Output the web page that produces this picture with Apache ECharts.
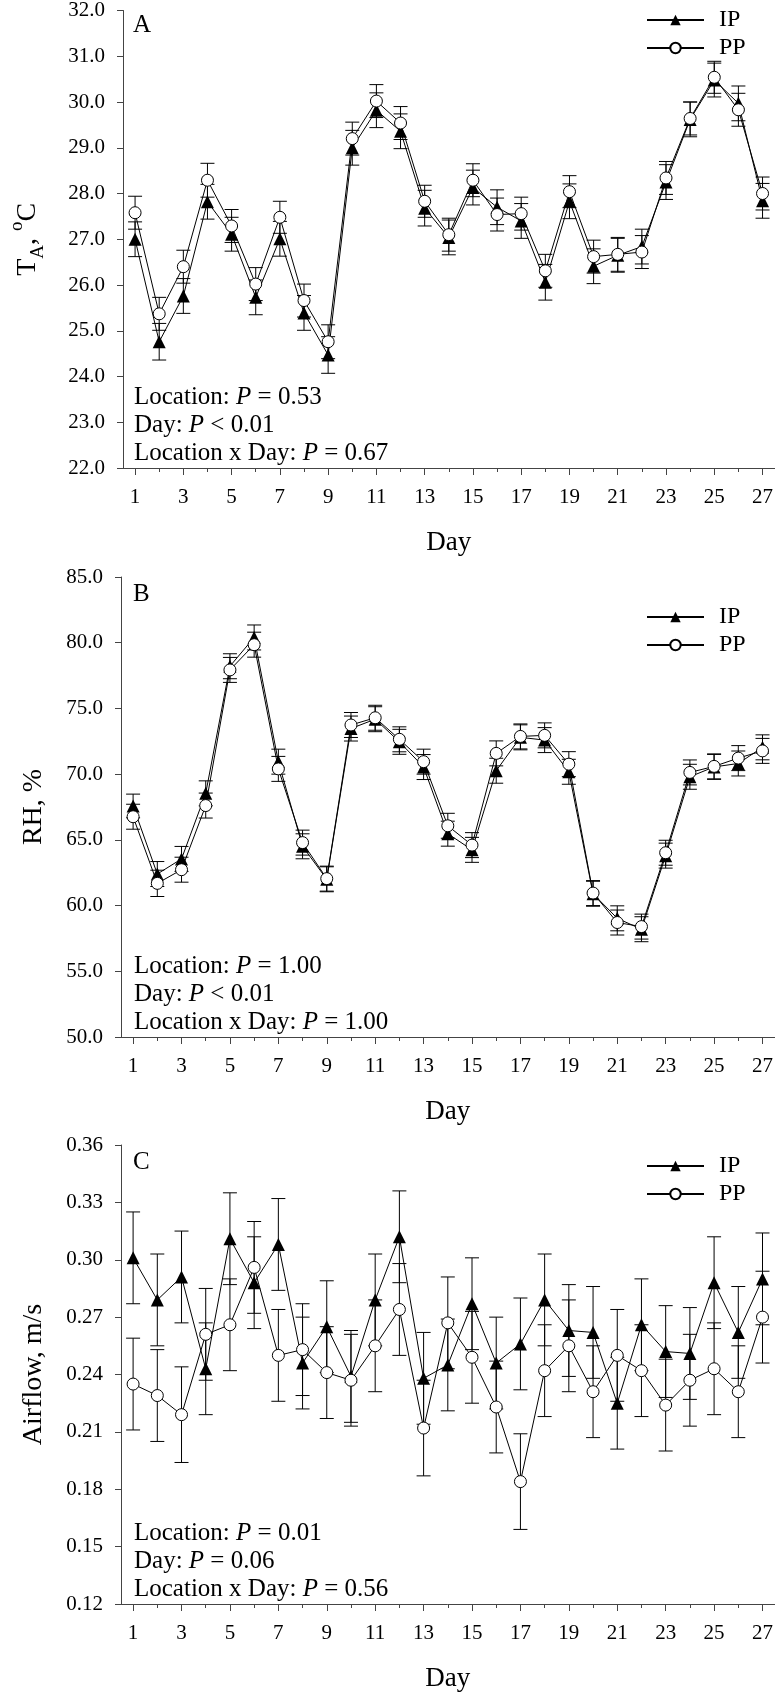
<!DOCTYPE html>
<html><head><meta charset="utf-8">
<script src="https://cdn.jsdelivr.net/npm/echarts@6/dist/echarts.min.js"></script>
<style>html,body{margin:0;padding:0;background:#fff}#c{width:776px;height:1697px}</style>
</head><body><div id="c"></div>
<script>
const days = [1,2,3,4,5,6,7,8,9,10,11,12,13,14,15,16,17,18,19,20,21,22,23,24,25,26,27];
const oddDays = [1,3,5,7,9,11,13,15,17,19,21,23,25,27];
const evenDays = [2,4,6,8,10,12,14,16,18,20,22,24,26];

// Panel A: air temperature (°C)
const taIP = [27.00,24.76,25.76,27.82,27.11,25.73,27.01,25.39,24.47,29.00,29.82,29.36,27.68,27.04,28.13,27.70,27.40,26.06,27.83,26.41,26.65,26.84,28.25,29.62,30.48,29.97,27.84];
const taPP = [27.58,25.37,26.40,28.29,27.29,26.02,27.48,25.66,24.76,29.20,30.02,29.54,27.83,27.10,28.29,27.54,27.56,26.31,28.04,26.62,26.67,26.72,28.34,29.64,30.54,29.83,28.00];
const taIPerr = [0.38,0.40,0.38,0.38,0.37,0.38,0.38,0.38,0.40,0.38,0.38,0.38,0.39,0.38,0.38,0.38,0.38,0.39,0.38,0.38,0.37,0.38,0.38,0.38,0.37,0.38,0.38];
const taPPerr = [0.36,0.36,0.36,0.37,0.36,0.36,0.35,0.36,0.37,0.36,0.36,0.36,0.35,0.36,0.36,0.36,0.36,0.36,0.35,0.36,0.37,0.36,0.36,0.36,0.35,0.36,0.36];

// Panel B: relative humidity (%)
const rhIP = [67.58,62.40,63.55,68.54,78.21,80.40,70.95,64.51,62.00,73.47,74.18,72.46,70.54,65.47,64.24,70.26,72.80,72.59,70.18,60.90,59.03,58.20,63.80,69.80,70.55,70.81,72.04];
const rhPP = [66.76,61.69,62.73,67.61,77.93,79.85,70.40,64.79,62.05,73.74,74.29,72.65,70.95,66.07,64.60,71.58,72.87,72.95,70.76,60.95,58.71,58.40,64.02,70.13,70.59,71.22,71.77];
const rhIPerr = [0.90,0.95,0.95,0.95,0.95,0.95,0.95,0.95,0.95,0.95,0.95,0.95,0.95,0.95,0.95,0.95,0.95,0.95,0.95,0.95,0.95,0.95,0.95,0.95,0.95,0.95,0.95];
const rhPPerr = [0.95,1.00,0.95,0.95,0.95,0.95,0.95,0.95,0.95,0.95,0.95,0.95,0.95,0.95,0.95,0.95,0.95,0.95,0.95,0.95,0.95,0.95,0.95,0.95,0.95,0.95,0.95];

// Panel C: airflow (m/s)
const afIP = [0.301,0.279,0.291,0.243,0.311,0.288,0.308,0.246,0.265,0.239,0.279,0.312,0.238,0.245,0.277,0.246,0.256,0.279,0.263,0.262,0.225,0.266,0.252,0.251,0.288,0.262,0.290];
const afPP = [0.235,0.229,0.219,0.261,0.266,0.296,0.250,0.253,0.241,0.237,0.255,0.274,0.212,0.267,0.249,0.223,0.184,0.242,0.255,0.231,0.250,0.242,0.224,0.237,0.243,0.231,0.270];
const afIPerr = [0.024,0.024,0.024,0.024,0.024,0.024,0.024,0.024,0.024,0.024,0.024,0.024,0.024,0.024,0.024,0.024,0.024,0.024,0.024,0.024,0.024,0.024,0.024,0.024,0.024,0.024,0.024];
const afPPerr = [0.024,0.024,0.025,0.024,0.024,0.024,0.024,0.024,0.024,0.024,0.024,0.024,0.025,0.024,0.024,0.024,0.025,0.024,0.024,0.024,0.024,0.024,0.024,0.024,0.024,0.024,0.024];

const yTitles = ['{n|T}{s|A}{n|, }{p|o}{n|C}', '{n|RH, %}', '{n|Airflow, m/s}'];
const letters = ['A','B','C'];
const statsA = [['Location','=','0.53'],['Day','<','0.01'],['Location x Day','=','0.67']];
const statsB = [['Location','=','1.00'],['Day','<','0.01'],['Location x Day','=','1.00']];
const statsC = [['Location','=','0.01'],['Day','=','0.06'],['Location x Day','=','0.56']];
const seriesNames = ['IP','PP'];

const FONT = 'Liberation Serif';
const AX = '#444';

const panels = [
  {top:8,    height:460, min:22,   max:32,   interval:1,    dec:1, ip:taIP, pp:taPP, ipE:taIPerr, ppE:taPPerr, stats:statsA, legTop:3,    nameGap:75},
  {top:577,  height:460, min:50,   max:85,   interval:5,    dec:1, ip:rhIP, pp:rhPP, ipE:rhIPerr, ppE:rhPPerr, stats:statsB, legTop:600,  nameGap:67},
  {top:1145, height:459, min:0.12, max:0.36, interval:0.03, dec:2, ip:afIP, pp:afPP, ipE:afIPerr, ppE:afPPerr, stats:statsC, legTop:1149, nameGap:67}
];

function errRender(params, api){
  const x = api.value(0), y = api.value(1), e = api.value(2);
  const hi = api.coord([x, y + e]), lo = api.coord([x, y - e]);
  const hw = 7;
  const style = {stroke:'#000', lineWidth:1};
  return {type:'group', children:[
    {type:'line', shape:{x1:hi[0], y1:hi[1], x2:lo[0], y2:lo[1]}, style:style},
    {type:'line', shape:{x1:hi[0]-hw, y1:hi[1], x2:hi[0]+hw, y2:hi[1]}, style:style},
    {type:'line', shape:{x1:lo[0]-hw, y1:lo[1], x2:lo[0]+hw, y2:lo[1]}, style:style}
  ]};
}

const grid = [], xAxis = [], yAxis = [], series = [], legend = [], graphic = [];
const richY = {
  n:{fontFamily:FONT, fontSize:28, lineHeight:40, color:'#000', verticalAlign:'middle'},
  s:{fontFamily:FONT, fontSize:19, lineHeight:22, color:'#000', verticalAlign:'bottom'},
  p:{fontFamily:FONT, fontSize:19, lineHeight:22, color:'#000', verticalAlign:'top'}
};
const richS = {
  n:{fontFamily:FONT, fontSize:25, lineHeight:28, color:'#000'},
  i:{fontFamily:FONT, fontSize:25, lineHeight:28, color:'#000', fontStyle:'italic'}
};

panels.forEach((p, k) => {
  grid.push({left:121, width:654, top:p.top, height:p.height, containLabel:false});
  xAxis.push({
    type:'value', gridIndex:k, min:0.5, max:27.5, position:'bottom',
    axisLine:{show:true, onZero:false, lineStyle:{color:AX, width:1}},
    axisTick:{show:true, length:7, lineStyle:{color:AX}, customValues:oddDays},
    axisLabel:{show:true, customValues:oddDays, margin:19, fontFamily:FONT, fontSize:21, color:'#000'},
    splitLine:{show:false},
    name:'Day', nameLocation:'middle', nameGap:61,
    nameTextStyle:{fontFamily:FONT, fontSize:27, color:'#000'}
  });
  yAxis.push({
    type:'value', gridIndex:k, min:p.min, max:p.max, interval:p.interval,
    axisLine:{show:true, onZero:false, lineStyle:{color:AX, width:1}},
    axisTick:{show:true, length:6, lineStyle:{color:AX}},
    axisLabel:{margin:18, fontFamily:FONT, fontSize:21, color:'#000', formatter:v => v.toFixed(p.dec)},
    splitLine:{show:false},
    name:yTitles[k], nameLocation:'middle', nameGap:p.nameGap,
    nameTextStyle:{fontFamily:FONT, fontSize:28, color:'#000', rich:richY}
  });
  series.push({
    type:'custom', name:'errIP'+k, xAxisIndex:k, yAxisIndex:k, renderItem:errRender,
    encode:{x:0, y:1}, data:days.map((d,i)=>[d, p.ip[i], p.ipE[i]]), z:1, silent:true
  });
  series.push({
    type:'custom', name:'errPP'+k, xAxisIndex:k, yAxisIndex:k, renderItem:errRender,
    encode:{x:0, y:1}, data:days.map((d,i)=>[d, p.pp[i], p.ppE[i]]), z:1, silent:true
  });
  series.push({
    type:'line', name:seriesNames[0], xAxisIndex:k, yAxisIndex:k,
    data:days.map((d,i)=>[d, p.ip[i]]),
    symbol:'triangle', symbolSize:13,
    itemStyle:{color:'#000'}, lineStyle:{color:'#000', width:1}, z:3
  });
  series.push({
    type:'line', name:seriesNames[1], xAxisIndex:k, yAxisIndex:k,
    data:days.map((d,i)=>[d, p.pp[i]]),
    symbol:'circle', symbolSize:12,
    itemStyle:{color:'#fff', borderColor:'#000', borderWidth:1}, lineStyle:{color:'#000', width:1}, z:4
  });
  legend.push({
    data:seriesNames, orient:'vertical', left:641, top:p.legTop,
    itemWidth:57, itemHeight:13, itemGap:4, selectedMode:false,
    textStyle:{fontFamily:FONT, fontSize:24, color:'#000', lineHeight:24, padding:[0,0,0,10]}
  });
  graphic.push({
    type:'text', left:133, top:p.top + 5,
    style:{text:letters[k], fontFamily:FONT, fontSize:25, fill:'#000'}
  });
  graphic.push({
    type:'text', left:134, top:p.top + p.height - 85,
    style:{
      text:p.stats.map(s => '{n|' + s[0] + ': }{i|P}{n| ' + s[1] + ' ' + s[2] + '}').join('\n'),
      rich:richS, fontFamily:FONT, fontSize:25, lineHeight:28, fill:'#000'
    }
  });
});

// minor (even-day) ticks
panels.forEach((p, k) => {
  xAxis.push({
    type:'value', gridIndex:k, min:0.5, max:27.5, position:'bottom',
    axisLine:{show:false, onZero:false},
    axisTick:{show:true, length:4, lineStyle:{color:AX}, customValues:evenDays},
    axisLabel:{show:false},
    splitLine:{show:false}
  });
});

const chart = echarts.init(document.getElementById('c'), null, {renderer:'canvas'});
chart.setOption({
  animation:false,
  backgroundColor:'#fff',
  grid, xAxis, yAxis, series, legend, graphic
});
</script>
</body></html>
